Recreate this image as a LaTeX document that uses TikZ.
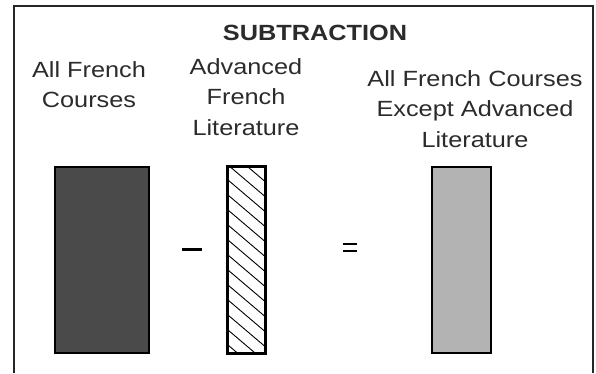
\documentclass[tikz,border=0pt]{standalone}
\usepackage{fontspec}
\setmainfont[FakeStretch=1.15]{Liberation Sans}
\definecolor{darkbar}{HTML}{4A4A4A}
\definecolor{lightbar}{HTML}{B3B3B3}
\definecolor{txtgray}{HTML}{2B2B2B}
\tikzset{
  label/.style={align=center,inner sep=0pt,anchor=base,text=txtgray,
    font=\fontsize{22}{30.5}\selectfont},
  bar/.style={draw=black,line width=1.6pt,inner sep=0pt,minimum height=186pt}
}
\begin{document}
\begin{tikzpicture}[x=1pt,y=-1pt]
	\useasboundingbox (0,0) rectangle (596,373);
	% frame, open at the bottom
	\draw[line width=1.8pt,draw=black!85] (14,373) -- (14,6) -- (593,6) -- (593,373);
	\node[label,font=\fontsize{22}{30.5}\selectfont\bfseries] (title) at (315,40.5) {SUBTRACTION};
	% texts
	\node[label] (lblall) at (89,77) {All French};
	\node[label] (lblall2) at (89,107.5) {Courses};
	\node[label] (lbladv) at (246,74) {Advanced};
	\node[label] (lbladv2) at (246,104) {French};
	\node[label] (lbladv3) at (246,135) {Literature};
	\node[label] (lblrest) at (475,86) {All French Courses};
	\node[label] (lblrest2) at (475,116.5) {Except Advanced};
	\node[label] (lblrest3) at (475,147) {Literature};
	% bars
	\node[bar,fill=darkbar,minimum width=94pt] (barall) at (102,260) {};
	\node[bar,minimum width=37pt] (baradv) at (246.5,260) {};
	\node[bar,fill=lightbar,minimum width=59pt] (barrest) at (461.5,260) {};
	\begin{scope}
		\clip (baradv.north west) rectangle (baradv.south east);
		\foreach \k in {-3,...,13}
			\draw[line width=0.9pt] (228,180+15*\k) -- ++(40,34);
	\end{scope}
	\draw[bar] (baradv.north west) rectangle (baradv.south east);
	% signs
	\draw[line width=3pt] (182,249) -- (202,249);
	\draw[line width=2.2pt] (343,244) -- (357,244);
	\draw[line width=2.2pt] (343,251) -- (357,251);
\end{tikzpicture}
\end{document}
